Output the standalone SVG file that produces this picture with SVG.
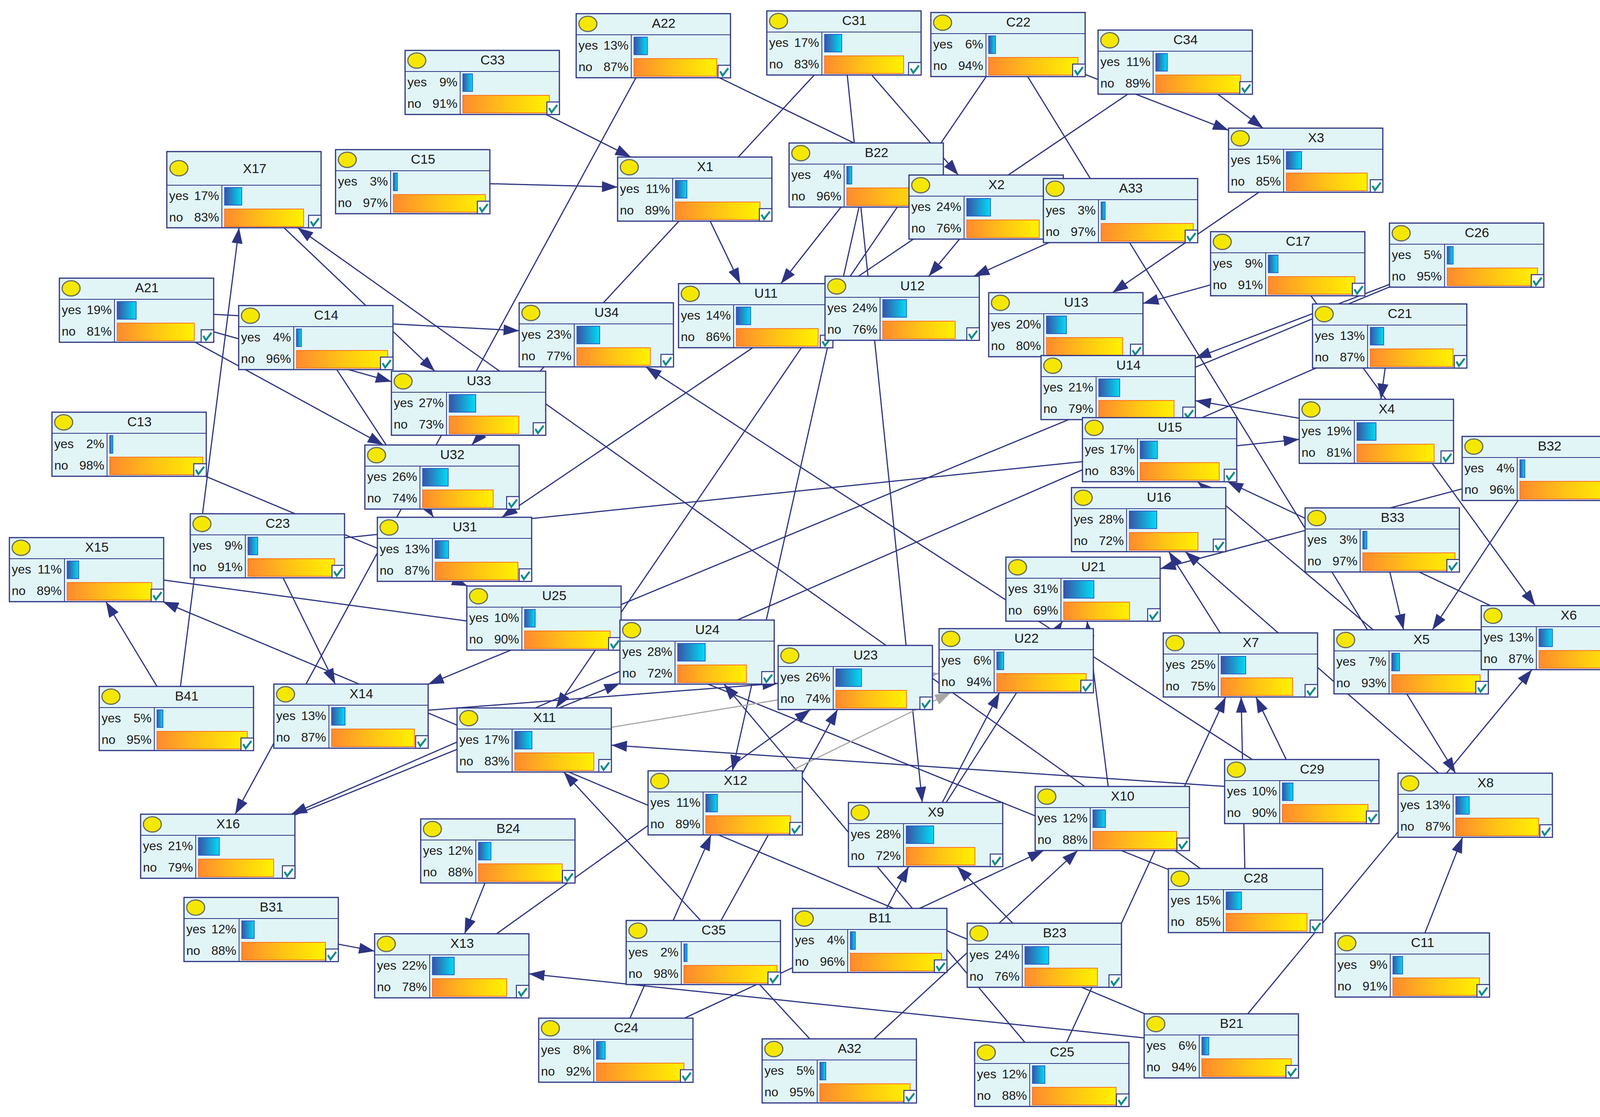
<svg xmlns="http://www.w3.org/2000/svg" width="4216" height="2859" viewBox="0 0 4216 2859">
<defs>
<style>
.box{fill:#E1F5F7;stroke:#2D3483;stroke-width:3}
.sep{stroke:#2D3483;stroke-width:2}
.dot{fill:#F5E800;stroke:#6A6A5E;stroke-width:3}
.t{font-family:"Liberation Sans",Arial,sans-serif;font-size:34px;fill:#1A1A1A;text-anchor:middle}
.l{font-family:"Liberation Sans",Arial,sans-serif;font-size:32px;fill:#1A1A1A}
.p{font-family:"Liberation Sans",Arial,sans-serif;font-size:32px;fill:#1A1A1A;text-anchor:end}
.yb{fill:url(#gy);stroke:#2A5CC8;stroke-width:2}
.nb{fill:url(#gn);stroke:#FF6E1E;stroke-width:2}
.cb{fill:#FFFFFF;stroke:#2D3483;stroke-width:2.5}
.ck{fill:none;stroke:#0A8C8C;stroke-width:5}
.e{stroke:#2D3483;stroke-width:3;fill:none;marker-end:url(#ah)}
.g{stroke:#A8A8A8;stroke-width:3;fill:none;marker-end:url(#ahg)}
</style>
<linearGradient id="gy" x1="0" y1="0" x2="1" y2="0"><stop offset="0" stop-color="#3A52A6"/><stop offset="1" stop-color="#00DDF6"/></linearGradient>
<linearGradient id="gn" x1="0" y1="0" x2="1" y2="0"><stop offset="0" stop-color="#FF8A2E"/><stop offset="0.5" stop-color="#FFC414"/><stop offset="1" stop-color="#FFF200"/></linearGradient>
<marker id="ah" markerUnits="userSpaceOnUse" viewBox="0 0 42 30" markerWidth="42" markerHeight="30" refX="40" refY="14" orient="auto"><path d="M0,0 L40,14 L0,28 z" fill="#2D3483"/></marker>
<marker id="ahg" markerUnits="userSpaceOnUse" viewBox="0 0 42 30" markerWidth="42" markerHeight="30" refX="40" refY="14" orient="auto"><path d="M0,0 L40,14 L0,28 z" fill="#A8A8A8"/></marker>
<g id="fr"><rect class="box" x="0" y="0" width="395" height="164"/><line class="sep" x1="0" y1="54" x2="395" y2="54"/><line class="sep" x1="141" y1="54" x2="141" y2="164"/><ellipse class="dot" cx="30" cy="26" rx="23" ry="19.5"/></g>
<g id="ch"><rect class="cb" x="363" y="132" width="32" height="32"/><path class="ck" d="M368.5,147.5 L375,158.5 L389.5,139.5"/></g>
</defs>
<rect x="0" y="0" width="4216" height="2859" fill="#FFFFFF"/>
<g id="connectors">
<line class="e" x1="1234.5" y1="211" x2="1615.1" y2="402"/>
<line class="e" x1="1056.5" y1="465" x2="1581" y2="478.8"/>
<line class="e" x1="1672.5" y1="117" x2="602.1" y2="2084"/>
<line class="e" x1="1672.5" y1="117" x2="2355.3" y2="448"/>
<line class="e" x1="2160.5" y1="110" x2="1207.4" y2="1139"/>
<line class="e" x1="2160.5" y1="110" x2="2361" y2="2054"/>
<line class="e" x1="2160.5" y1="110" x2="2453.4" y2="448"/>
<line class="e" x1="2580.5" y1="114" x2="1423.4" y2="1812"/>
<line class="e" x1="2580.5" y1="114" x2="3726.1" y2="1979"/>
<line class="e" x1="2580.5" y1="114" x2="3145" y2="333.3"/>
<line class="e" x1="3008.5" y1="159" x2="3233.4" y2="328"/>
<line class="e" x1="3008.5" y1="159" x2="1284.8" y2="1324"/>
<line class="e" x1="3342.5" y1="410" x2="2848.1" y2="749"/>
<line class="e" x1="451.5" y1="1839" x2="612" y2="583"/>
<line class="e" x1="3188.5" y1="2305" x2="761.9" y2="583"/>
<line class="e" x1="624.5" y1="485.5" x2="1113.2" y2="950"/>
<line class="e" x1="349.5" y1="794" x2="1329" y2="846.4"/>
<line class="e" x1="349.5" y1="794" x2="1002" y2="976.7"/>
<line class="e" x1="349.5" y1="794" x2="981.3" y2="1139"/>
<line class="e" x1="808.5" y1="864" x2="1109.8" y2="1324"/>
<line class="e" x1="1778.5" y1="484" x2="1895" y2="726"/>
<line class="e" x1="2217.5" y1="448" x2="1999" y2="726"/>
<line class="e" x1="2217.5" y1="448" x2="1874.9" y2="1973"/>
<line class="e" x1="2524.5" y1="530" x2="2377.6" y2="707"/>
<line class="e" x1="2868.5" y1="539" x2="2492.9" y2="707"/>
<line class="e" x1="3296.5" y1="675" x2="2926" y2="776.8"/>
<line class="e" x1="3754.5" y1="653" x2="3060" y2="916.9"/>
<line class="e" x1="3754.5" y1="653" x2="1096" y2="1751.4"/>
<line class="e" x1="3296.5" y1="675" x2="3930.1" y2="1550"/>
<line class="e" x1="3557.5" y1="860" x2="3534.9" y2="1022"/>
<line class="e" x1="3557.5" y1="860" x2="745.9" y2="2084"/>
<line class="e" x1="330.5" y1="1137" x2="1196.8" y2="1500"/>
<line class="e" x1="684.5" y1="1397" x2="3326" y2="1124.4"/>
<line class="e" x1="684.5" y1="1397" x2="858.2" y2="1751"/>
<line class="e" x1="221.5" y1="1458" x2="1587" y2="1642.3"/>
<line class="e" x1="3126.5" y1="2677" x2="416.9" y2="1540"/>
<line class="e" x1="451.5" y1="1839" x2="271" y2="1540"/>
<line class="e" x1="557.5" y1="2166" x2="1587" y2="1749"/>
<line class="e" x1="2692.5" y1="2750" x2="1853.4" y2="1751"/>
<line class="e" x1="3332.5" y1="2026" x2="1653.2" y2="939"/>
<line class="e" x1="3188.5" y1="2305" x2="1590" y2="1661.5"/>
<line class="e" x1="898.5" y1="1833" x2="1992" y2="1749.1"/>
<line class="e" x1="1156.5" y1="2472" x2="2074.7" y2="1816"/>
<line class="e" x1="1800.5" y1="2438" x2="2144.2" y2="1816"/>
<line class="g" x1="1367.5" y1="1894" x2="2404" y2="1723.5"/>
<line class="g" x1="1856.5" y1="2055" x2="2433.7" y2="1773"/>
<line class="e" x1="2369.5" y1="2136" x2="2558.7" y2="1773"/>
<line class="e" x1="2369.5" y1="2136" x2="2719.9" y2="1590"/>
<line class="e" x1="2847.5" y1="2095" x2="2783" y2="1590"/>
<line class="e" x1="3940.5" y1="1199" x2="2970" y2="1455.8"/>
<line class="e" x1="3175.5" y1="1702" x2="2992.3" y2="1412"/>
<line class="e" x1="3776.5" y1="2061" x2="3034.3" y2="1412"/>
<line class="e" x1="3989.5" y1="1632" x2="3142.6" y2="1233"/>
<line class="e" x1="3612.5" y1="1694" x2="3065.7" y2="1233"/>
<line class="e" x1="3523.5" y1="1104" x2="3060" y2="1025.5"/>
<line class="e" x1="3538.5" y1="1382" x2="3593.1" y2="1612"/>
<line class="e" x1="3940.5" y1="1199" x2="3666.8" y2="1612"/>
<line class="e" x1="3126.5" y1="2677" x2="3921.8" y2="1714"/>
<line class="e" x1="2692.5" y1="2750" x2="3137.7" y2="1784"/>
<line class="e" x1="3188.5" y1="2305" x2="3177.3" y2="1784"/>
<line class="e" x1="3332.5" y1="2026" x2="3215.2" y2="1784"/>
<line class="e" x1="3615.5" y1="2470" x2="3744.2" y2="2143"/>
<line class="e" x1="2673.5" y1="2445" x2="2450.2" y2="2218"/>
<line class="e" x1="2226.5" y1="2407" x2="2326.2" y2="2218"/>
<line class="e" x1="2148.5" y1="2741" x2="2758.8" y2="2177"/>
<line class="e" x1="1576.5" y1="2688" x2="2671.7" y2="2177"/>
<line class="e" x1="2148.5" y1="2741" x2="1443.1" y2="1976"/>
<line class="e" x1="3332.5" y1="2026" x2="1565" y2="1907.3"/>
<line class="e" x1="1576.5" y1="2688" x2="1820.2" y2="2137"/>
<line class="e" x1="1274.5" y1="2178" x2="1189.4" y2="2390"/>
<line class="e" x1="668.5" y1="2379" x2="959" y2="2434.4"/>
<line class="e" x1="3126.5" y1="2677" x2="1354" y2="2492.6"/>
</g>
<g id="nodes">
<g id="n-A22" transform="translate(1475,35)"><use href="#fr"/><text class="t" x="224" y="36">A22</text><text class="l" x="6" y="92">yes</text><text class="p" x="134" y="92">13%</text><text class="l" x="6" y="147">no</text><text class="p" x="134" y="147">87%</text><rect class="yb" x="148" y="60" width="34.2" height="45"/><rect class="nb" x="148" y="115" width="211.8" height="45"/><use href="#ch"/></g>
<g id="n-C31" transform="translate(1963,28)"><use href="#fr"/><text class="t" x="224" y="36">C31</text><text class="l" x="6" y="92">yes</text><text class="p" x="134" y="92">17%</text><text class="l" x="6" y="147">no</text><text class="p" x="134" y="147">83%</text><rect class="yb" x="148" y="60" width="43.8" height="45"/><rect class="nb" x="148" y="115" width="202.2" height="45"/><use href="#ch"/></g>
<g id="n-C22" transform="translate(2383,32)"><use href="#fr"/><text class="t" x="224" y="36">C22</text><text class="l" x="6" y="92">yes</text><text class="p" x="134" y="92">6%</text><text class="l" x="6" y="147">no</text><text class="p" x="134" y="147">94%</text><rect class="yb" x="148" y="60" width="17.4" height="45"/><rect class="nb" x="148" y="115" width="228.6" height="45"/><use href="#ch"/></g>
<g id="n-C34" transform="translate(2811,77)"><use href="#fr"/><text class="t" x="224" y="36">C34</text><text class="l" x="6" y="92">yes</text><text class="p" x="134" y="92">11%</text><text class="l" x="6" y="147">no</text><text class="p" x="134" y="147">89%</text><rect class="yb" x="148" y="60" width="29.4" height="45"/><rect class="nb" x="148" y="115" width="216.6" height="45"/><use href="#ch"/></g>
<g id="n-C33" transform="translate(1037,129)"><use href="#fr"/><text class="t" x="224" y="36">C33</text><text class="l" x="6" y="92">yes</text><text class="p" x="134" y="92">9%</text><text class="l" x="6" y="147">no</text><text class="p" x="134" y="147">91%</text><rect class="yb" x="148" y="60" width="24.6" height="45"/><rect class="nb" x="148" y="115" width="221.4" height="45"/><use href="#ch"/></g>
<g id="n-X3" transform="translate(3145,328)"><use href="#fr"/><text class="t" x="224" y="36">X3</text><text class="l" x="6" y="92">yes</text><text class="p" x="134" y="92">15%</text><text class="l" x="6" y="147">no</text><text class="p" x="134" y="147">85%</text><rect class="yb" x="148" y="60" width="39" height="45"/><rect class="nb" x="148" y="115" width="207" height="45"/><use href="#ch"/></g>
<g id="n-X17" transform="translate(427,388)"><rect class="box" x="0" y="0" width="395" height="195"/><line class="sep" x1="0" y1="86" x2="395" y2="86"/><line class="sep" x1="141" y1="86" x2="141" y2="195"/><ellipse class="dot" cx="31" cy="42.5" rx="23" ry="19.5"/><text class="t" x="225" y="55">X17</text><text class="l" x="6" y="124">yes</text><text class="p" x="134" y="124">17%</text><text class="l" x="6" y="179">no</text><text class="p" x="134" y="179">83%</text><rect class="yb" x="148" y="92" width="43.8" height="45"/><rect class="nb" x="148" y="147" width="202.2" height="45"/><use href="#ch" y="31"/></g>
<g id="n-C15" transform="translate(859,383)"><use href="#fr"/><text class="t" x="224" y="36">C15</text><text class="l" x="6" y="92">yes</text><text class="p" x="134" y="92">3%</text><text class="l" x="6" y="147">no</text><text class="p" x="134" y="147">97%</text><rect class="yb" x="148" y="60" width="10.2" height="45"/><rect class="nb" x="148" y="115" width="235.8" height="45"/><use href="#ch"/></g>
<g id="n-X1" transform="translate(1581,402)"><use href="#fr"/><text class="t" x="224" y="36">X1</text><text class="l" x="6" y="92">yes</text><text class="p" x="134" y="92">11%</text><text class="l" x="6" y="147">no</text><text class="p" x="134" y="147">89%</text><rect class="yb" x="148" y="60" width="29.4" height="45"/><rect class="nb" x="148" y="115" width="216.6" height="45"/><use href="#ch"/></g>
<g id="n-B22" transform="translate(2020,366)"><use href="#fr"/><text class="t" x="224" y="36">B22</text><text class="l" x="6" y="92">yes</text><text class="p" x="134" y="92">4%</text><text class="l" x="6" y="147">no</text><text class="p" x="134" y="147">96%</text><rect class="yb" x="148" y="60" width="12.6" height="45"/><rect class="nb" x="148" y="115" width="233.4" height="45"/><use href="#ch"/></g>
<g id="n-X2" transform="translate(2327,448)"><use href="#fr"/><text class="t" x="224" y="36">X2</text><text class="l" x="6" y="92">yes</text><text class="p" x="134" y="92">24%</text><text class="l" x="6" y="147">no</text><text class="p" x="134" y="147">76%</text><rect class="yb" x="148" y="60" width="60.6" height="45"/><rect class="nb" x="148" y="115" width="185.4" height="45"/><use href="#ch"/></g>
<g id="n-A33" transform="translate(2671,457)"><use href="#fr"/><text class="t" x="224" y="36">A33</text><text class="l" x="6" y="92">yes</text><text class="p" x="134" y="92">3%</text><text class="l" x="6" y="147">no</text><text class="p" x="134" y="147">97%</text><rect class="yb" x="148" y="60" width="10.2" height="45"/><rect class="nb" x="148" y="115" width="235.8" height="45"/><use href="#ch"/></g>
<g id="n-C17" transform="translate(3099,593)"><use href="#fr"/><text class="t" x="224" y="36">C17</text><text class="l" x="6" y="92">yes</text><text class="p" x="134" y="92">9%</text><text class="l" x="6" y="147">no</text><text class="p" x="134" y="147">91%</text><rect class="yb" x="148" y="60" width="24.6" height="45"/><rect class="nb" x="148" y="115" width="221.4" height="45"/><use href="#ch"/></g>
<g id="n-C26" transform="translate(3557,571)"><use href="#fr"/><text class="t" x="224" y="36">C26</text><text class="l" x="6" y="92">yes</text><text class="p" x="134" y="92">5%</text><text class="l" x="6" y="147">no</text><text class="p" x="134" y="147">95%</text><rect class="yb" x="148" y="60" width="15" height="45"/><rect class="nb" x="148" y="115" width="231" height="45"/><use href="#ch"/></g>
<g id="n-A21" transform="translate(152,712)"><use href="#fr"/><text class="t" x="224" y="36">A21</text><text class="l" x="6" y="92">yes</text><text class="p" x="134" y="92">19%</text><text class="l" x="6" y="147">no</text><text class="p" x="134" y="147">81%</text><rect class="yb" x="148" y="60" width="48.6" height="45"/><rect class="nb" x="148" y="115" width="197.4" height="45"/><use href="#ch"/></g>
<g id="n-C14" transform="translate(611,782)"><use href="#fr"/><text class="t" x="224" y="36">C14</text><text class="l" x="6" y="92">yes</text><text class="p" x="134" y="92">4%</text><text class="l" x="6" y="147">no</text><text class="p" x="134" y="147">96%</text><rect class="yb" x="148" y="60" width="12.6" height="45"/><rect class="nb" x="148" y="115" width="233.4" height="45"/><use href="#ch"/></g>
<g id="n-U34" transform="translate(1329,775)"><use href="#fr"/><text class="t" x="224" y="36">U34</text><text class="l" x="6" y="92">yes</text><text class="p" x="134" y="92">23%</text><text class="l" x="6" y="147">no</text><text class="p" x="134" y="147">77%</text><rect class="yb" x="148" y="60" width="58.2" height="45"/><rect class="nb" x="148" y="115" width="187.8" height="45"/><use href="#ch"/></g>
<g id="n-U11" transform="translate(1737,726)"><use href="#fr"/><text class="t" x="224" y="36">U11</text><text class="l" x="6" y="92">yes</text><text class="p" x="134" y="92">14%</text><text class="l" x="6" y="147">no</text><text class="p" x="134" y="147">86%</text><rect class="yb" x="148" y="60" width="36.6" height="45"/><rect class="nb" x="148" y="115" width="209.4" height="45"/><use href="#ch"/></g>
<g id="n-U12" transform="translate(2112,707)"><use href="#fr"/><text class="t" x="224" y="36">U12</text><text class="l" x="6" y="92">yes</text><text class="p" x="134" y="92">24%</text><text class="l" x="6" y="147">no</text><text class="p" x="134" y="147">76%</text><rect class="yb" x="148" y="60" width="60.6" height="45"/><rect class="nb" x="148" y="115" width="185.4" height="45"/><use href="#ch"/></g>
<g id="n-U13" transform="translate(2531,749)"><use href="#fr"/><text class="t" x="224" y="36">U13</text><text class="l" x="6" y="92">yes</text><text class="p" x="134" y="92">20%</text><text class="l" x="6" y="147">no</text><text class="p" x="134" y="147">80%</text><rect class="yb" x="148" y="60" width="51" height="45"/><rect class="nb" x="148" y="115" width="195" height="45"/><use href="#ch"/></g>
<g id="n-C21" transform="translate(3360,778)"><use href="#fr"/><text class="t" x="224" y="36">C21</text><text class="l" x="6" y="92">yes</text><text class="p" x="134" y="92">13%</text><text class="l" x="6" y="147">no</text><text class="p" x="134" y="147">87%</text><rect class="yb" x="148" y="60" width="34.2" height="45"/><rect class="nb" x="148" y="115" width="211.8" height="45"/><use href="#ch"/></g>
<g id="n-U33" transform="translate(1002,950)"><use href="#fr"/><text class="t" x="224" y="36">U33</text><text class="l" x="6" y="92">yes</text><text class="p" x="134" y="92">27%</text><text class="l" x="6" y="147">no</text><text class="p" x="134" y="147">73%</text><rect class="yb" x="148" y="60" width="67.8" height="45"/><rect class="nb" x="148" y="115" width="178.2" height="45"/><use href="#ch"/></g>
<g id="n-U14" transform="translate(2665,910)"><use href="#fr"/><text class="t" x="224" y="36">U14</text><text class="l" x="6" y="92">yes</text><text class="p" x="134" y="92">21%</text><text class="l" x="6" y="147">no</text><text class="p" x="134" y="147">79%</text><rect class="yb" x="148" y="60" width="53.4" height="45"/><rect class="nb" x="148" y="115" width="192.6" height="45"/><use href="#ch"/></g>
<g id="n-X4" transform="translate(3326,1022)"><use href="#fr"/><text class="t" x="224" y="36">X4</text><text class="l" x="6" y="92">yes</text><text class="p" x="134" y="92">19%</text><text class="l" x="6" y="147">no</text><text class="p" x="134" y="147">81%</text><rect class="yb" x="148" y="60" width="48.6" height="45"/><rect class="nb" x="148" y="115" width="197.4" height="45"/><use href="#ch"/></g>
<g id="n-C13" transform="translate(133,1055)"><use href="#fr"/><text class="t" x="224" y="36">C13</text><text class="l" x="6" y="92">yes</text><text class="p" x="134" y="92">2%</text><text class="l" x="6" y="147">no</text><text class="p" x="134" y="147">98%</text><rect class="yb" x="148" y="60" width="7.8" height="45"/><rect class="nb" x="148" y="115" width="238.2" height="45"/><use href="#ch"/></g>
<g id="n-U32" transform="translate(934,1139)"><use href="#fr"/><text class="t" x="224" y="36">U32</text><text class="l" x="6" y="92">yes</text><text class="p" x="134" y="92">26%</text><text class="l" x="6" y="147">no</text><text class="p" x="134" y="147">74%</text><rect class="yb" x="148" y="60" width="65.4" height="45"/><rect class="nb" x="148" y="115" width="180.6" height="45"/><use href="#ch"/></g>
<g id="n-U15" transform="translate(2771,1069)"><use href="#fr"/><text class="t" x="224" y="36">U15</text><text class="l" x="6" y="92">yes</text><text class="p" x="134" y="92">17%</text><text class="l" x="6" y="147">no</text><text class="p" x="134" y="147">83%</text><rect class="yb" x="148" y="60" width="43.8" height="45"/><rect class="nb" x="148" y="115" width="202.2" height="45"/><use href="#ch"/></g>
<g id="n-B32" transform="translate(3743,1117)"><use href="#fr"/><text class="t" x="224" y="36">B32</text><text class="l" x="6" y="92">yes</text><text class="p" x="134" y="92">4%</text><text class="l" x="6" y="147">no</text><text class="p" x="134" y="147">96%</text><rect class="yb" x="148" y="60" width="12.6" height="45"/><rect class="nb" x="148" y="115" width="233.4" height="45"/><use href="#ch"/></g>
<g id="n-U16" transform="translate(2743,1248)"><use href="#fr"/><text class="t" x="224" y="36">U16</text><text class="l" x="6" y="92">yes</text><text class="p" x="134" y="92">28%</text><text class="l" x="6" y="147">no</text><text class="p" x="134" y="147">72%</text><rect class="yb" x="148" y="60" width="70.2" height="45"/><rect class="nb" x="148" y="115" width="175.8" height="45"/><use href="#ch"/></g>
<g id="n-C23" transform="translate(487,1315)"><use href="#fr"/><text class="t" x="224" y="36">C23</text><text class="l" x="6" y="92">yes</text><text class="p" x="134" y="92">9%</text><text class="l" x="6" y="147">no</text><text class="p" x="134" y="147">91%</text><rect class="yb" x="148" y="60" width="24.6" height="45"/><rect class="nb" x="148" y="115" width="221.4" height="45"/><use href="#ch"/></g>
<g id="n-U31" transform="translate(966,1324)"><use href="#fr"/><text class="t" x="224" y="36">U31</text><text class="l" x="6" y="92">yes</text><text class="p" x="134" y="92">13%</text><text class="l" x="6" y="147">no</text><text class="p" x="134" y="147">87%</text><rect class="yb" x="148" y="60" width="34.2" height="45"/><rect class="nb" x="148" y="115" width="211.8" height="45"/><use href="#ch"/></g>
<g id="n-B33" transform="translate(3341,1300)"><use href="#fr"/><text class="t" x="224" y="36">B33</text><text class="l" x="6" y="92">yes</text><text class="p" x="134" y="92">3%</text><text class="l" x="6" y="147">no</text><text class="p" x="134" y="147">97%</text><rect class="yb" x="148" y="60" width="10.2" height="45"/><rect class="nb" x="148" y="115" width="235.8" height="45"/><use href="#ch"/></g>
<g id="n-X15" transform="translate(24,1376)"><use href="#fr"/><text class="t" x="224" y="36">X15</text><text class="l" x="6" y="92">yes</text><text class="p" x="134" y="92">11%</text><text class="l" x="6" y="147">no</text><text class="p" x="134" y="147">89%</text><rect class="yb" x="148" y="60" width="29.4" height="45"/><rect class="nb" x="148" y="115" width="216.6" height="45"/><use href="#ch"/></g>
<g id="n-U21" transform="translate(2575,1426)"><use href="#fr"/><text class="t" x="224" y="36">U21</text><text class="l" x="6" y="92">yes</text><text class="p" x="134" y="92">31%</text><text class="l" x="6" y="147">no</text><text class="p" x="134" y="147">69%</text><rect class="yb" x="148" y="60" width="77.4" height="45"/><rect class="nb" x="148" y="115" width="168.6" height="45"/><use href="#ch"/></g>
<g id="n-U25" transform="translate(1195,1500)"><use href="#fr"/><text class="t" x="224" y="36">U25</text><text class="l" x="6" y="92">yes</text><text class="p" x="134" y="92">10%</text><text class="l" x="6" y="147">no</text><text class="p" x="134" y="147">90%</text><rect class="yb" x="148" y="60" width="27" height="45"/><rect class="nb" x="148" y="115" width="219" height="45"/><use href="#ch"/></g>
<g id="n-U24" transform="translate(1587,1587)"><use href="#fr"/><text class="t" x="224" y="36">U24</text><text class="l" x="6" y="92">yes</text><text class="p" x="134" y="92">28%</text><text class="l" x="6" y="147">no</text><text class="p" x="134" y="147">72%</text><rect class="yb" x="148" y="60" width="70.2" height="45"/><rect class="nb" x="148" y="115" width="175.8" height="45"/><use href="#ch"/></g>
<g id="n-X5" transform="translate(3415,1612)"><use href="#fr"/><text class="t" x="224" y="36">X5</text><text class="l" x="6" y="92">yes</text><text class="p" x="134" y="92">7%</text><text class="l" x="6" y="147">no</text><text class="p" x="134" y="147">93%</text><rect class="yb" x="148" y="60" width="19.8" height="45"/><rect class="nb" x="148" y="115" width="226.2" height="45"/><use href="#ch"/></g>
<g id="n-X6" transform="translate(3792,1550)"><use href="#fr"/><text class="t" x="224" y="36">X6</text><text class="l" x="6" y="92">yes</text><text class="p" x="134" y="92">13%</text><text class="l" x="6" y="147">no</text><text class="p" x="134" y="147">87%</text><rect class="yb" x="148" y="60" width="34.2" height="45"/><rect class="nb" x="148" y="115" width="211.8" height="45"/><use href="#ch"/></g>
<g id="n-U22" transform="translate(2404,1609)"><use href="#fr"/><text class="t" x="224" y="36">U22</text><text class="l" x="6" y="92">yes</text><text class="p" x="134" y="92">6%</text><text class="l" x="6" y="147">no</text><text class="p" x="134" y="147">94%</text><rect class="yb" x="148" y="60" width="17.4" height="45"/><rect class="nb" x="148" y="115" width="228.6" height="45"/><use href="#ch"/></g>
<g id="n-X7" transform="translate(2978,1620)"><use href="#fr"/><text class="t" x="224" y="36">X7</text><text class="l" x="6" y="92">yes</text><text class="p" x="134" y="92">25%</text><text class="l" x="6" y="147">no</text><text class="p" x="134" y="147">75%</text><rect class="yb" x="148" y="60" width="63" height="45"/><rect class="nb" x="148" y="115" width="183" height="45"/><use href="#ch"/></g>
<g id="n-U23" transform="translate(1992,1652)"><use href="#fr"/><text class="t" x="224" y="36">U23</text><text class="l" x="6" y="92">yes</text><text class="p" x="134" y="92">26%</text><text class="l" x="6" y="147">no</text><text class="p" x="134" y="147">74%</text><rect class="yb" x="148" y="60" width="65.4" height="45"/><rect class="nb" x="148" y="115" width="180.6" height="45"/><use href="#ch"/></g>
<g id="n-B41" transform="translate(254,1757)"><use href="#fr"/><text class="t" x="224" y="36">B41</text><text class="l" x="6" y="92">yes</text><text class="p" x="134" y="92">5%</text><text class="l" x="6" y="147">no</text><text class="p" x="134" y="147">95%</text><rect class="yb" x="148" y="60" width="15" height="45"/><rect class="nb" x="148" y="115" width="231" height="45"/><use href="#ch"/></g>
<g id="n-X14" transform="translate(701,1751)"><use href="#fr"/><text class="t" x="224" y="36">X14</text><text class="l" x="6" y="92">yes</text><text class="p" x="134" y="92">13%</text><text class="l" x="6" y="147">no</text><text class="p" x="134" y="147">87%</text><rect class="yb" x="148" y="60" width="34.2" height="45"/><rect class="nb" x="148" y="115" width="211.8" height="45"/><use href="#ch"/></g>
<g id="n-X11" transform="translate(1170,1812)"><use href="#fr"/><text class="t" x="224" y="36">X11</text><text class="l" x="6" y="92">yes</text><text class="p" x="134" y="92">17%</text><text class="l" x="6" y="147">no</text><text class="p" x="134" y="147">83%</text><rect class="yb" x="148" y="60" width="43.8" height="45"/><rect class="nb" x="148" y="115" width="202.2" height="45"/><use href="#ch"/></g>
<g id="n-C29" transform="translate(3135,1944)"><use href="#fr"/><text class="t" x="224" y="36">C29</text><text class="l" x="6" y="92">yes</text><text class="p" x="134" y="92">10%</text><text class="l" x="6" y="147">no</text><text class="p" x="134" y="147">90%</text><rect class="yb" x="148" y="60" width="27" height="45"/><rect class="nb" x="148" y="115" width="219" height="45"/><use href="#ch"/></g>
<g id="n-X12" transform="translate(1659,1973)"><use href="#fr"/><text class="t" x="224" y="36">X12</text><text class="l" x="6" y="92">yes</text><text class="p" x="134" y="92">11%</text><text class="l" x="6" y="147">no</text><text class="p" x="134" y="147">89%</text><rect class="yb" x="148" y="60" width="29.4" height="45"/><rect class="nb" x="148" y="115" width="216.6" height="45"/><use href="#ch"/></g>
<g id="n-X8" transform="translate(3579,1979)"><use href="#fr"/><text class="t" x="224" y="36">X8</text><text class="l" x="6" y="92">yes</text><text class="p" x="134" y="92">13%</text><text class="l" x="6" y="147">no</text><text class="p" x="134" y="147">87%</text><rect class="yb" x="148" y="60" width="34.2" height="45"/><rect class="nb" x="148" y="115" width="211.8" height="45"/><use href="#ch"/></g>
<g id="n-X9" transform="translate(2172,2054)"><use href="#fr"/><text class="t" x="224" y="36">X9</text><text class="l" x="6" y="92">yes</text><text class="p" x="134" y="92">28%</text><text class="l" x="6" y="147">no</text><text class="p" x="134" y="147">72%</text><rect class="yb" x="148" y="60" width="70.2" height="45"/><rect class="nb" x="148" y="115" width="175.8" height="45"/><use href="#ch"/></g>
<g id="n-X10" transform="translate(2650,2013)"><use href="#fr"/><text class="t" x="224" y="36">X10</text><text class="l" x="6" y="92">yes</text><text class="p" x="134" y="92">12%</text><text class="l" x="6" y="147">no</text><text class="p" x="134" y="147">88%</text><rect class="yb" x="148" y="60" width="31.8" height="45"/><rect class="nb" x="148" y="115" width="214.2" height="45"/><use href="#ch"/></g>
<g id="n-X16" transform="translate(360,2084)"><use href="#fr"/><text class="t" x="224" y="36">X16</text><text class="l" x="6" y="92">yes</text><text class="p" x="134" y="92">21%</text><text class="l" x="6" y="147">no</text><text class="p" x="134" y="147">79%</text><rect class="yb" x="148" y="60" width="53.4" height="45"/><rect class="nb" x="148" y="115" width="192.6" height="45"/><use href="#ch"/></g>
<g id="n-B24" transform="translate(1077,2096)"><use href="#fr"/><text class="t" x="224" y="36">B24</text><text class="l" x="6" y="92">yes</text><text class="p" x="134" y="92">12%</text><text class="l" x="6" y="147">no</text><text class="p" x="134" y="147">88%</text><rect class="yb" x="148" y="60" width="31.8" height="45"/><rect class="nb" x="148" y="115" width="214.2" height="45"/><use href="#ch"/></g>
<g id="n-C28" transform="translate(2991,2223)"><use href="#fr"/><text class="t" x="224" y="36">C28</text><text class="l" x="6" y="92">yes</text><text class="p" x="134" y="92">15%</text><text class="l" x="6" y="147">no</text><text class="p" x="134" y="147">85%</text><rect class="yb" x="148" y="60" width="39" height="45"/><rect class="nb" x="148" y="115" width="207" height="45"/><use href="#ch"/></g>
<g id="n-B31" transform="translate(471,2297)"><use href="#fr"/><text class="t" x="224" y="36">B31</text><text class="l" x="6" y="92">yes</text><text class="p" x="134" y="92">12%</text><text class="l" x="6" y="147">no</text><text class="p" x="134" y="147">88%</text><rect class="yb" x="148" y="60" width="31.8" height="45"/><rect class="nb" x="148" y="115" width="214.2" height="45"/><use href="#ch"/></g>
<g id="n-B11" transform="translate(2029,2325)"><use href="#fr"/><text class="t" x="224" y="36">B11</text><text class="l" x="6" y="92">yes</text><text class="p" x="134" y="92">4%</text><text class="l" x="6" y="147">no</text><text class="p" x="134" y="147">96%</text><rect class="yb" x="148" y="60" width="12.6" height="45"/><rect class="nb" x="148" y="115" width="233.4" height="45"/><use href="#ch"/></g>
<g id="n-C35" transform="translate(1603,2356)"><use href="#fr"/><text class="t" x="224" y="36">C35</text><text class="l" x="6" y="92">yes</text><text class="p" x="134" y="92">2%</text><text class="l" x="6" y="147">no</text><text class="p" x="134" y="147">98%</text><rect class="yb" x="148" y="60" width="7.8" height="45"/><rect class="nb" x="148" y="115" width="238.2" height="45"/><use href="#ch"/></g>
<g id="n-B23" transform="translate(2476,2363)"><use href="#fr"/><text class="t" x="224" y="36">B23</text><text class="l" x="6" y="92">yes</text><text class="p" x="134" y="92">24%</text><text class="l" x="6" y="147">no</text><text class="p" x="134" y="147">76%</text><rect class="yb" x="148" y="60" width="60.6" height="45"/><rect class="nb" x="148" y="115" width="185.4" height="45"/><use href="#ch"/></g>
<g id="n-C11" transform="translate(3418,2388)"><use href="#fr"/><text class="t" x="224" y="36">C11</text><text class="l" x="6" y="92">yes</text><text class="p" x="134" y="92">9%</text><text class="l" x="6" y="147">no</text><text class="p" x="134" y="147">91%</text><rect class="yb" x="148" y="60" width="24.6" height="45"/><rect class="nb" x="148" y="115" width="221.4" height="45"/><use href="#ch"/></g>
<g id="n-X13" transform="translate(959,2390)"><use href="#fr"/><text class="t" x="224" y="36">X13</text><text class="l" x="6" y="92">yes</text><text class="p" x="134" y="92">22%</text><text class="l" x="6" y="147">no</text><text class="p" x="134" y="147">78%</text><rect class="yb" x="148" y="60" width="55.8" height="45"/><rect class="nb" x="148" y="115" width="190.2" height="45"/><use href="#ch"/></g>
<g id="n-B21" transform="translate(2929,2595)"><use href="#fr"/><text class="t" x="224" y="36">B21</text><text class="l" x="6" y="92">yes</text><text class="p" x="134" y="92">6%</text><text class="l" x="6" y="147">no</text><text class="p" x="134" y="147">94%</text><rect class="yb" x="148" y="60" width="17.4" height="45"/><rect class="nb" x="148" y="115" width="228.6" height="45"/><use href="#ch"/></g>
<g id="n-C24" transform="translate(1379,2606)"><use href="#fr"/><text class="t" x="224" y="36">C24</text><text class="l" x="6" y="92">yes</text><text class="p" x="134" y="92">8%</text><text class="l" x="6" y="147">no</text><text class="p" x="134" y="147">92%</text><rect class="yb" x="148" y="60" width="22.2" height="45"/><rect class="nb" x="148" y="115" width="223.8" height="45"/><use href="#ch"/></g>
<g id="n-A32" transform="translate(1951,2659)"><use href="#fr"/><text class="t" x="224" y="36">A32</text><text class="l" x="6" y="92">yes</text><text class="p" x="134" y="92">5%</text><text class="l" x="6" y="147">no</text><text class="p" x="134" y="147">95%</text><rect class="yb" x="148" y="60" width="15" height="45"/><rect class="nb" x="148" y="115" width="231" height="45"/><use href="#ch"/></g>
<g id="n-C25" transform="translate(2495,2668)"><use href="#fr"/><text class="t" x="224" y="36">C25</text><text class="l" x="6" y="92">yes</text><text class="p" x="134" y="92">12%</text><text class="l" x="6" y="147">no</text><text class="p" x="134" y="147">88%</text><rect class="yb" x="148" y="60" width="31.8" height="45"/><rect class="nb" x="148" y="115" width="214.2" height="45"/><use href="#ch"/></g>
</g>
</svg>
